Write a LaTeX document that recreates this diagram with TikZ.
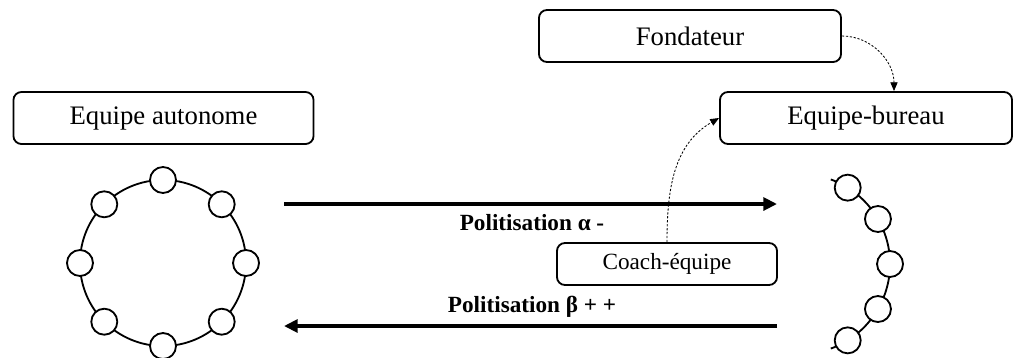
\documentclass[tikz,border=0pt]{standalone}
\usepackage{fontspec}
\setmainfont{Liberation Serif}
\usetikzlibrary{arrows.meta,calc}

\tikzset{
    rolebox/.style={draw, line width=1.3pt, rounded corners=0.2cm, inner sep=0pt,
        minimum height=1.3cm, font=\fontsize{19}{23}\selectfont},
    member/.style={draw, line width=1.3pt, fill=white, circle, minimum size=0.65cm, inner sep=0pt},
    flow/.style={line width=2.6pt, -{Triangle[length=0.34cm, width=0.32cm]}},
    influence/.style={line width=0.6pt, dash pattern=on 1.6pt off 1.2pt,
        -{Triangle[length=0.22cm, width=0.18cm]}},
    flowlabel/.style={font=\bfseries\fontsize{16.5}{20}\selectfont}
}

\begin{document}
\begin{tikzpicture}[x=0.025cm, y=-0.025cm]
    \useasboundingbox (0,0) rectangle (1014,357);

    % roles
    \node[rolebox, minimum width=7.5cm] (autonome) at (163.5,118) {Equipe autonome};
    \node[rolebox, minimum width=7.55cm] (fondateur) at (690,36) {Fondateur};
    \node[rolebox, minimum width=7.3cm] (bureau) at (866,118) {Equipe-bureau};
    \node[rolebox, minimum width=5.5cm, minimum height=1.05cm,
        font=\fontsize{16.5}{20}\selectfont] (coach) at (667,264) {Coach-équipe};

    % autonomous team: closed ring
    \draw[line width=1.3pt] (163,263) circle (2.075cm);
    \foreach \a in {0,45,...,315}
        \node[member] at ($(163,263)+(\a:2.075cm)$) {};

    % office team: open arc
    \draw[line width=1.3pt] ([shift={(-70:2.25cm)}]800,264) arc (-70:70:2.25cm);
    \foreach \a in {-58,-30,0,30,58}
        \node[member] at ($(800,264)+(\a:2.25cm)$) {};

    % politisation flows
    \coordinate (topL) at (284,204);
    \coordinate (topR) at (777,204);
    \coordinate (botL) at (284,326);
    \coordinate (botR) at (777,326);
    \draw[flow] (topL) -- (topR);
    \draw[flow] (botR) -- (botL);
    \node[flowlabel] (alpha) at (532,223) {Politisation α -};
    \node[flowlabel] (beta) at (532,307) {Politisation β + +};

    % influences
    \draw[influence] (fondateur.east) to[out=0, in=90] ([xshift=0.7cm]bureau.north);
    \draw[influence] (coach.north) to[out=90, in=210] (bureau.west);
\end{tikzpicture}
\end{document}
